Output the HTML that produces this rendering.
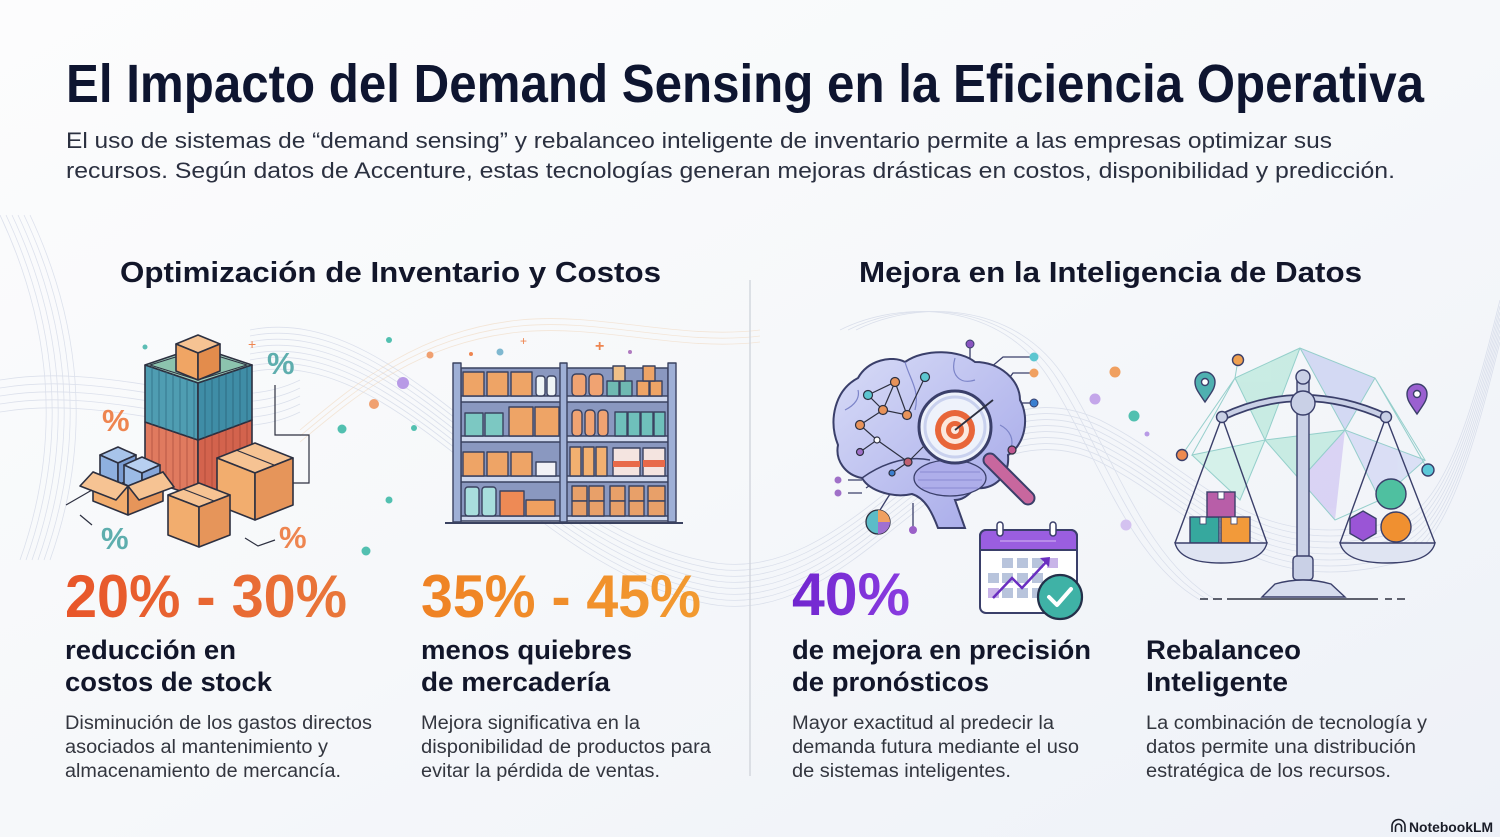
<!DOCTYPE html>
<html><head><meta charset="utf-8"><style>
html,body{margin:0;padding:0;background:#f6f8fb;}
svg{display:block;}
text{font-family:"Liberation Sans",Arial,sans-serif;}
</style></head><body>
<svg width="1500" height="837" viewBox="0 0 1500 837" xmlns="http://www.w3.org/2000/svg">
<defs>
<linearGradient id="bg" x1="0" y1="0" x2="1" y2="1">
<stop offset="0" stop-color="#fcfcfd"/><stop offset="0.5" stop-color="#f6f8fa"/><stop offset="1" stop-color="#eef1f8"/>
</linearGradient>
<linearGradient id="g1" x1="0" y1="0" x2="1" y2="0"><stop offset="0" stop-color="#e8562a"/><stop offset="1" stop-color="#e9773a"/></linearGradient>
<linearGradient id="g2" x1="0" y1="0" x2="1" y2="0"><stop offset="0" stop-color="#ef8224"/><stop offset="1" stop-color="#f29a30"/></linearGradient>
<linearGradient id="g3" x1="0" y1="0" x2="1" y2="0"><stop offset="0" stop-color="#7126cf"/><stop offset="1" stop-color="#8a3ce0"/></linearGradient>
<linearGradient id="brainG" x1="0" y1="0" x2="1" y2="1"><stop offset="0" stop-color="#d8dcf7"/><stop offset="1" stop-color="#a3a6e8"/></linearGradient>
<clipPath id="bl"><polygon points="145,365 198,383 198,440 145,422"/></clipPath>
<clipPath id="br"><polygon points="198,383 252,365 252,420 198,440"/></clipPath>
<clipPath id="rl"><polygon points="145,422 198,440 198,497 145,479"/></clipPath>
<clipPath id="rr"><polygon points="198,440 252,420 252,477 198,497"/></clipPath>
</defs>
<rect width="1500" height="837" fill="url(#bg)"/>

<!-- background waves -->
<g fill="none" stroke="#c9d0e2" stroke-width="0.8" opacity="0.6">
<path d="M250,330 C400,300 520,520 700,560 C860,600 950,350 1100,420 C1200,470 1250,560 1400,520 C1450,505 1480,380 1500,300"/>
<path d="M250,336 C400,306 520,526 700,566 C860,606 950,356 1100,426 C1200,476 1250,566 1400,526 C1450,511 1480,386 1500,306"/>
<path d="M250,342 C400,312 520,532 700,572 C860,612 950,362 1100,432 C1200,482 1250,572 1400,532 C1450,517 1480,392 1500,312"/>
<path d="M250,348 C400,318 520,538 700,578 C860,618 950,368 1100,438 C1200,488 1250,578 1400,538 C1450,523 1480,398 1500,318"/>
<path d="M250,354 C400,324 520,544 700,584 C860,624 950,374 1100,444 C1200,494 1250,584 1400,544 C1450,529 1480,404 1500,324"/>
<path d="M250,360 C400,330 520,550 700,590 C860,630 950,380 1100,450 C1200,500 1250,590 1400,550 C1450,535 1480,410 1500,330"/>
<path d="M250,366 C400,336 520,556 700,596 C860,636 950,386 1100,456 C1200,506 1250,596 1400,556 C1450,541 1480,416 1500,336"/>
<path d="M250,372 C400,342 520,562 700,602 C860,642 950,392 1100,462 C1200,512 1250,602 1400,562 C1450,547 1480,422 1500,342"/>
<path d="M0,215 C40,300 70,420 20,560"/><path d="M6,215 C46,300 76,420 26,560"/><path d="M12,215 C52,300 82,420 32,560"/>
<path d="M18,215 C58,300 88,420 38,560"/><path d="M24,215 C64,300 94,420 44,560"/><path d="M30,215 C70,300 100,420 50,560"/>
<path d="M0,380 C120,360 220,420 300,380"/><path d="M0,388 C120,368 220,428 300,388"/><path d="M0,396 C120,376 220,436 300,396"/>
<path d="M0,404 C120,384 220,444 300,404"/><path d="M0,412 C120,392 220,452 300,412"/>
<path d="M840,330 C900,300 1000,300 1050,380 C1100,460 1130,560 1200,600"/>
<path d="M848,330 C908,300 1008,300 1058,380 C1108,460 1138,560 1208,600"/>
<path d="M856,330 C916,300 1016,300 1066,380 C1116,460 1146,560 1216,600"/>
</g>
<g fill="none" stroke="#f0d2b4" stroke-width="0.8" opacity="0.5">
<path d="M300,430 C360,380 420,330 520,320 C600,312 680,340 760,330"/>
<path d="M300,436 C360,386 420,336 520,326 C600,318 680,346 760,336"/>
<path d="M300,442 C360,392 420,342 520,332 C600,324 680,352 760,342"/>
</g>

<!-- Title -->
<text x="66" y="102" font-size="54" font-weight="700" fill="#0e1530" textLength="1358" lengthAdjust="spacingAndGlyphs">El Impacto del Demand Sensing en la Eficiencia Operativa</text>
<text x="66" y="148" font-size="22" fill="#2b3040" textLength="1266" lengthAdjust="spacingAndGlyphs">El uso de sistemas de “demand sensing” y rebalanceo inteligente de inventario permite a las empresas optimizar sus</text>
<text x="66" y="178" font-size="22" fill="#2b3040" textLength="1329" lengthAdjust="spacingAndGlyphs">recursos. Según datos de Accenture, estas tecnologías generan mejoras drásticas en costos, disponibilidad y predicción.</text>

<!-- Section headings -->
<text x="120" y="282" font-size="29" font-weight="700" fill="#12162a" textLength="541" lengthAdjust="spacingAndGlyphs">Optimización de Inventario y Costos</text>
<text x="859" y="282" font-size="29" font-weight="700" fill="#12162a" textLength="503" lengthAdjust="spacingAndGlyphs">Mejora en la Inteligencia de Datos</text>

<!-- divider -->
<line x1="750" y1="280" x2="750" y2="776" stroke="#d3d7de" stroke-width="1.5"/>

<!-- ===== Illustration 1: containers & boxes ===== -->
<g stroke="#2d3040" stroke-width="1.6" stroke-linejoin="round">
<!-- red container -->
<polygon points="145,422 198,440 198,497 145,479" fill="#e07a5f"/>
<polygon points="198,440 252,420 252,477 198,497" fill="#d3634d"/>
<g clip-path="url(#rl)" stroke="#a84a3a" stroke-width="1" opacity="0.7"><path d="M152,400V520M159,400V520M166,400V520M173,400V520M180,400V520M187,400V520M194,400V520"/></g>
<g clip-path="url(#rr)" stroke="#a14434" stroke-width="1" opacity="0.7"><path d="M205,400V520M212,400V520M219,400V520M226,400V520M233,400V520M240,400V520M247,400V520"/></g>
<!-- blue container -->
<polygon points="145,365 198,347 252,365 198,383" fill="#9fd0bd"/>
<polygon points="150,365 198,350 247,365 198,380" fill="#8cc3ae" stroke-width="1"/>
<polygon points="145,365 198,383 198,440 145,422" fill="#4f9db2"/>
<polygon points="198,383 252,365 252,420 198,440" fill="#3f8da6"/>
<g clip-path="url(#bl)" stroke="#2f6f84" stroke-width="1" opacity="0.8"><path d="M152,350V450M159,350V450M166,350V450M173,350V450M180,350V450M187,350V450M194,350V450"/></g>
<g clip-path="url(#br)" stroke="#2a6479" stroke-width="1" opacity="0.8"><path d="M205,350V450M212,350V450M219,350V450M226,350V450M233,350V450M240,350V450M247,350V450"/></g>
<!-- top box -->
<polygon points="176,344 198,335 220,344 198,353" fill="#f6c393"/>
<polygon points="176,344 198,353 198,380 176,371" fill="#f0a564"/>
<polygon points="198,353 220,344 220,371 198,380" fill="#e38c4c"/>
<!-- right box -->
<polygon points="217,458 255,443 293,458 255,473" fill="#f6c393"/>
<polygon points="217,458 255,473 255,520 217,505" fill="#f2ad6e"/>
<polygon points="255,473 293,458 293,505 255,520" fill="#e6955a"/>
<line x1="236" y1="450" x2="274" y2="465" stroke-width="1.2"/>
<!-- middle box -->
<polygon points="168,495 199,483 230,495 199,507" fill="#f6c393"/>
<polygon points="168,495 199,507 199,547 168,535" fill="#f2ad6e"/>
<polygon points="199,507 230,495 230,535 199,547" fill="#e6955a"/>
<line x1="183" y1="489" x2="214" y2="501" stroke-width="1.2"/>
<!-- open box left -->
<polygon points="100,455 118,447 136,455 118,463" fill="#a8c4ea"/>
<polygon points="100,455 118,463 118,485 100,477" fill="#8eb0e0"/>
<polygon points="118,463 136,455 136,477 118,485" fill="#7a9cd2"/>
<polygon points="124,465 142,457 160,465 142,473" fill="#b7cff0"/>
<polygon points="124,465 142,473 142,492 124,484" fill="#9cbbe6"/>
<polygon points="142,473 160,465 160,484 142,492" fill="#86a6da"/>
<polygon points="93,472 128,486 128,515 93,501" fill="#f2ad6e"/>
<polygon points="128,486 163,472 163,501 128,515" fill="#e6955a"/>
<polygon points="93,472 128,486 116,500 80,486" fill="#f6c393"/>
<polygon points="128,486 163,472 174,487 139,500" fill="#f6c393"/>
</g>
<g stroke="#2d3040" stroke-width="1.2" fill="none">
<path d="M275,385 V435 H309 V483 H293"/>
<path d="M66,505 L92,490 M80,515 L92,525"/>
<path d="M245,538 L258,546 L275,540"/>
</g>
<g font-size="31" font-weight="700">
<text x="267" y="374" fill="#5eaeae">%</text>
<text x="102" y="431" fill="#ee8550">%</text>
<text x="101" y="549" fill="#5eaeae">%</text>
<text x="279" y="548" fill="#ee8550">%</text>
</g>
<text x="248" y="349" font-size="14" fill="#ee8550">+</text>
<circle cx="145" cy="347" r="2.5" fill="#5cbdb5"/>

<!-- floating dots between illustrations -->
<circle cx="403" cy="383" r="6" fill="#b89ae6"/>
<circle cx="374" cy="404" r="5" fill="#f0a070"/>
<circle cx="342" cy="429" r="4.5" fill="#52c0b0"/>
<circle cx="414" cy="428" r="3" fill="#52c0b0"/>
<circle cx="389" cy="500" r="3.5" fill="#52c0b0"/>
<circle cx="366" cy="551" r="4.5" fill="#52c0b0"/>
<circle cx="389" cy="340" r="3" fill="#52c0b0"/>
<circle cx="430" cy="355" r="3.5" fill="#f0a070"/>

<!-- ===== Illustration 2: shelves ===== -->
<g stroke="#3a4260" stroke-width="1.4" stroke-linejoin="round">
<rect x="461" y="368" width="207" height="150" fill="#8a98c0"/>
<rect x="461" y="396" width="207" height="6" fill="#cfd8ee"/>
<rect x="461" y="436" width="207" height="6" fill="#cfd8ee"/>
<rect x="461" y="476" width="207" height="6" fill="#cfd8ee"/>
<rect x="461" y="516" width="207" height="5" fill="#cfd8ee"/>
<rect x="463" y="372" width="21" height="24" fill="#eea466"/>
<rect x="487" y="372" width="21" height="24" fill="#eea466"/>
<rect x="511" y="372" width="21" height="24" fill="#eea466"/>
<rect x="536" y="376" width="9" height="20" rx="3" fill="#eef4f6"/>
<rect x="547" y="376" width="9" height="20" rx="3" fill="#eef4f6"/>
<rect x="572" y="374" width="14" height="22" rx="4" fill="#f0a372"/>
<rect x="589" y="374" width="14" height="22" rx="4" fill="#f0a372"/>
<rect x="607" y="381" width="12" height="15" fill="#6fb9b2"/>
<rect x="620" y="381" width="12" height="15" fill="#6fb9b2"/>
<rect x="613" y="366" width="12" height="15" fill="#f0c088"/>
<rect x="637" y="381" width="12" height="15" fill="#eea466"/>
<rect x="650" y="381" width="12" height="15" fill="#eea466"/>
<rect x="643" y="366" width="12" height="15" fill="#eea466"/>
<rect x="465" y="413" width="18" height="23" fill="#7cc8c2"/>
<rect x="485" y="413" width="18" height="23" fill="#7cc8c2"/>
<rect x="509" y="407" width="24" height="29" fill="#eea466"/>
<rect x="535" y="407" width="24" height="29" fill="#eea466"/>
<rect x="572" y="410" width="10" height="26" rx="4" fill="#f0a372"/>
<rect x="585" y="410" width="10" height="26" rx="4" fill="#f0a372"/>
<rect x="598" y="410" width="10" height="26" rx="4" fill="#f0a372"/>
<rect x="615" y="412" width="12" height="24" fill="#6fc0bb"/>
<rect x="628" y="412" width="12" height="24" fill="#6fc0bb"/>
<rect x="641" y="412" width="12" height="24" fill="#6fc0bb"/>
<rect x="654" y="412" width="11" height="24" fill="#6fc0bb"/>
<rect x="463" y="452" width="21" height="24" fill="#eea466"/>
<rect x="487" y="452" width="21" height="24" fill="#eea466"/>
<rect x="511" y="452" width="21" height="24" fill="#eea466"/>
<rect x="536" y="462" width="20" height="14" fill="#f1f1f6"/>
<rect x="570" y="447" width="11" height="29" fill="#f2b070"/>
<rect x="583" y="447" width="11" height="29" fill="#f2b070"/>
<rect x="596" y="447" width="11" height="29" fill="#f2b070"/>
<rect x="613" y="448" width="27" height="28" fill="#f4e4e0"/>
<rect x="643" y="448" width="22" height="28" fill="#f4e4e0"/>
<rect x="643" y="460" width="22" height="7" fill="#e86a4a" stroke="none"/>
<rect x="613" y="461" width="27" height="6" fill="#e86a4a" stroke="none"/>
<rect x="465" y="487" width="14" height="29" rx="3" fill="#a8dedd"/>
<rect x="482" y="487" width="14" height="29" rx="3" fill="#a8dedd"/>
<rect x="500" y="491" width="24" height="25" fill="#ee8a55"/>
<rect x="526" y="500" width="29" height="16" fill="#f0a060"/>
<rect x="572" y="486" width="15" height="15" fill="#e8a069"/>
<rect x="589" y="486" width="15" height="15" fill="#e8a069"/>
<rect x="610" y="486" width="15" height="15" fill="#e8a069"/>
<rect x="629" y="486" width="15" height="15" fill="#e8a069"/>
<rect x="648" y="486" width="17" height="15" fill="#e8a069"/>
<rect x="572" y="501" width="15" height="15" fill="#e8a069"/>
<rect x="589" y="501" width="15" height="15" fill="#e8a069"/>
<rect x="610" y="501" width="15" height="15" fill="#e8a069"/>
<rect x="629" y="501" width="15" height="15" fill="#e8a069"/>
<rect x="648" y="501" width="17" height="15" fill="#e8a069"/>
<rect x="453" y="363" width="8" height="159" fill="#9fb0d6"/>
<rect x="560" y="363" width="7" height="159" fill="#9fb0d6"/>
<rect x="668" y="363" width="8" height="159" fill="#9fb0d6"/>
<line x1="445" y1="523" x2="683" y2="523" stroke-width="2"/>
</g>
<text x="595" y="351" font-size="16" fill="#ee8550" font-weight="700">+</text>
<text x="520" y="345" font-size="12" fill="#ee8550">+</text>
<circle cx="500" cy="352" r="3.5" fill="#7fb8d0"/>
<circle cx="471" cy="354" r="2" fill="#ee8550"/>
<circle cx="630" cy="352" r="2" fill="#b07ac0"/>

<!-- ===== Illustration 3: brain ===== -->
<g stroke="#3a3f6a" stroke-width="1.3" fill="none">
<line x1="970" y1="346" x2="970" y2="362"/>
<path d="M990,368 L1003,357 H1030"/>
<path d="M993,400 L1013,373 H1030"/>
<path d="M1020,403 H1030"/>
<line x1="913" y1="503" x2="913" y2="527"/>
<path d="M848,480 H862 M848,493 H862 M866,488 L875,482"/>
<line x1="880" y1="510" x2="900" y2="478"/>
</g>
<circle cx="970" cy="344" r="4" fill="#8a55c0" stroke="#3a3f6a"/>
<circle cx="1034" cy="357" r="4.5" fill="#5cc6d0"/>
<circle cx="1034" cy="373" r="4.5" fill="#f0a060"/>
<circle cx="1034" cy="403" r="4" fill="#3a7fd0" stroke="#3a3f6a"/>
<circle cx="913" cy="530" r="4" fill="#9a60c8"/>
<circle cx="838" cy="480" r="3.5" fill="#a070c8"/>
<circle cx="838" cy="493" r="3.5" fill="#a070c8"/>
<path d="M838,445 C828,420 835,390 858,378 C868,360 892,355 905,362 C925,348 960,350 975,362 C1000,362 1020,380 1020,400 C1030,418 1025,445 1008,455 C1010,475 995,490 975,488 C968,496 962,500 955,500 L965,528 L938,528 C932,512 925,498 912,494 C895,498 870,492 862,478 C845,475 835,460 838,445 Z" fill="url(#brainG)" stroke="#3a3f6a" stroke-width="2"/>
<ellipse cx="950" cy="478" rx="36" ry="18" fill="#aeaeea" stroke="#3a3f6a" stroke-width="1.3"/>
<path d="M920,472 H980 M918,480 H982 M922,488 H978" stroke="#8a8ad2" stroke-width="1"/>
<path d="M862,478 C880,465 905,455 930,460" stroke="#3a3f6a" stroke-width="1.5" fill="none"/>
<path d="M905,362 C910,380 920,390 915,410 M955,358 C950,375 960,385 975,380 M845,410 C855,405 860,398 858,390 M1000,425 C1010,430 1015,440 1010,450" stroke="#7c84c8" stroke-width="1.2" fill="none"/>
<g stroke="#2d3040" stroke-width="1.2">
<path d="M895,382 L868,395 L883,410 L895,382 L907,415 L883,410 L860,425 L877,440 L860,452 M907,415 L925,377 M908,462 L892,473 M877,440 L908,462 L930,440" fill="none"/>
<circle cx="895" cy="382" r="4.5" fill="#e8935a"/>
<circle cx="868" cy="395" r="4.5" fill="#5cc6d0"/>
<circle cx="883" cy="410" r="4.5" fill="#e8935a"/>
<circle cx="907" cy="415" r="4.5" fill="#e8935a"/>
<circle cx="860" cy="425" r="4.5" fill="#e8935a"/>
<circle cx="925" cy="377" r="4.5" fill="#5cc6d0"/>
<circle cx="877" cy="440" r="3" fill="#ffffff"/>
<circle cx="860" cy="452" r="3.5" fill="#a070c8"/>
<circle cx="908" cy="462" r="4" fill="#c06070"/>
<circle cx="1012" cy="450" r="4" fill="#c05890"/>
<circle cx="892" cy="473" r="3" fill="#3a7fd0"/>
</g>
<line x1="990" y1="460" x2="1028" y2="498" stroke="#3a3f6a" stroke-width="15" stroke-linecap="round"/>
<line x1="990" y1="460" x2="1028" y2="498" stroke="#c8679e" stroke-width="11" stroke-linecap="round"/>
<circle cx="955" cy="427" r="36" fill="#eef2fb" stroke="#3a3f6a" stroke-width="3"/>
<circle cx="955" cy="427" r="30" fill="none" stroke="#c9d1ee" stroke-width="3"/>
<circle cx="955" cy="430" r="20" fill="#e8663a"/>
<circle cx="955" cy="430" r="14" fill="#fbe8de"/>
<circle cx="955" cy="430" r="9" fill="#e8663a"/>
<circle cx="955" cy="430" r="4" fill="#fbe8de"/>
<line x1="955" y1="430" x2="993" y2="400" stroke="#2d3040" stroke-width="1.8"/>
<circle cx="878" cy="522" r="12" fill="#5cbcc8" stroke="#2d3040" stroke-width="1.3"/>
<path d="M878,522 V510 A12,12 0 0 1 890,522 Z" fill="#f0a060"/>
<path d="M878,522 H890 A12,12 0 0 1 878,534 Z" fill="#a070d0"/>
<!-- calendar -->
<rect x="980" y="530" width="97" height="83" rx="6" fill="#ffffff" stroke="#3a3f6a" stroke-width="2"/>
<path d="M980,550 V536 a6,6 0 0 1 6,-6 H1071 a6,6 0 0 1 6,6 V550 Z" fill="#9a5ee0" stroke="#3a3f6a" stroke-width="2"/>
<line x1="1000" y1="541" x2="1056" y2="541" stroke="#c9a8f0" stroke-width="1.2"/>
<rect x="997" y="522" width="6" height="14" rx="3" fill="#fff" stroke="#3a3f6a" stroke-width="1.5"/>
<rect x="1050" y="522" width="6" height="14" rx="3" fill="#fff" stroke="#3a3f6a" stroke-width="1.5"/>
<g fill="#b8c4dc">
<rect x="1002" y="558" width="11" height="10"/><rect x="1017" y="558" width="11" height="10"/><rect x="1032" y="558" width="11" height="10"/><rect x="1047" y="558" width="11" height="10" fill="#c8b4e8"/>
<rect x="988" y="573" width="11" height="10"/><rect x="1002" y="573" width="11" height="10"/><rect x="1017" y="573" width="11" height="10"/><rect x="1032" y="573" width="11" height="10"/>
<rect x="988" y="588" width="11" height="10" fill="#c8b4e8"/><rect x="1002" y="588" width="11" height="10"/><rect x="1017" y="588" width="11" height="10"/><rect x="1032" y="588" width="11" height="10"/>
</g>
<path d="M993,598 L1012,578 L1022,588 L1048,560" fill="none" stroke="#6a2fc0" stroke-width="2.5"/>
<path d="M1040,558 L1050,557 L1049,567 Z" fill="#6a2fc0"/>
<circle cx="1060" cy="597" r="22" fill="#3fb2a6" stroke="#24304a" stroke-width="2.2"/>
<path d="M1049,597 L1057,605 L1071,589" fill="none" stroke="#ffffff" stroke-width="4" stroke-linecap="round" stroke-linejoin="round"/>

<circle cx="1115" cy="372" r="5.5" fill="#f0a060"/>
<circle cx="1095" cy="399" r="5.5" fill="#c4a6ea"/>
<circle cx="1134" cy="416" r="5.5" fill="#52c0b0"/>
<circle cx="1147" cy="434" r="2.5" fill="#b89ae6"/>
<circle cx="1126" cy="525" r="5.5" fill="#d4c2f0"/>

<!-- ===== Illustration 4: scale ===== -->
<g opacity="0.55">
<polygon points="1300,348 1375,378 1345,430" fill="#b9c3ef"/>
<polygon points="1235,378 1300,348 1265,440" fill="#a6e3d2"/>
<polygon points="1265,440 1345,430 1300,480" fill="#a6e3d2"/>
<polygon points="1192,455 1265,440 1240,500" fill="#bdeede"/>
<polygon points="1345,430 1425,460 1380,500" fill="#c7cdf2"/>
<polygon points="1300,480 1345,430 1335,520" fill="#c6b8f0"/>
</g>
<g stroke="#8ccbc6" stroke-width="1" fill="none" opacity="0.9">
<path d="M1300,348 L1235,378 L1192,455 L1265,440 L1300,348 L1375,378 L1425,460 L1345,430 L1300,348 M1235,378 L1265,440 L1345,430 L1375,378 M1265,440 L1300,480 L1345,430 M1192,455 L1240,500 L1265,440 M1345,430 L1380,500 L1425,460 M1300,480 L1335,520 L1380,500 M1182,455 L1235,378 M1375,378 L1428,470 M1238,360 L1235,378"/>
</g>
<g stroke="#3a3f6a" stroke-width="1.4">
<path d="M1222,417 L1175,543 M1222,417 L1267,543 M1386,417 L1340,543 M1386,417 L1435,543" fill="none"/>
<rect x="1190" y="517" width="29" height="26" fill="#36a89e"/>
<rect x="1221" y="517" width="29" height="26" fill="#f29a3a"/>
<rect x="1207" y="492" width="28" height="25" fill="#b85ea8"/>
<rect x="1200" y="517" width="6" height="7" fill="#fff" stroke-width="0.8"/>
<rect x="1231" y="517" width="6" height="7" fill="#fff" stroke-width="0.8"/>
<rect x="1218" y="492" width="6" height="7" fill="#fff" stroke-width="0.8"/>
<polygon points="1363,511 1376,518.5 1376,533.5 1363,541 1350,533.5 1350,518.5" fill="#9a55d6"/>
<circle cx="1396" cy="527" r="15" fill="#f09030"/>
<circle cx="1391" cy="494" r="15" fill="#4fc0a0"/>
<path d="M1175,543 L1267,543 Q1262,563 1221,563 Q1180,563 1175,543 Z" fill="#dfe4f2"/>
<path d="M1340,543 L1435,543 Q1430,563 1387,563 Q1345,563 1340,543 Z" fill="#dfe4f2"/>
<rect x="1297" y="380" width="12" height="180" fill="#c9d0e6"/>
<rect x="1293" y="556" width="20" height="24" rx="4" fill="#c9d0e6"/>
<path d="M1262,597 L1275,584 Q1303,576 1331,584 L1345,597 Z" fill="#d6dcee"/>
<path d="M1222,417 Q1262,398 1303,398 Q1344,398 1386,417" fill="none" stroke="#3a3f6a" stroke-width="8" stroke-linecap="round"/>
<path d="M1222,417 Q1262,398 1303,398 Q1344,398 1386,417" fill="none" stroke="#c9d0e6" stroke-width="4.5" stroke-linecap="round"/>
<circle cx="1303" cy="377" r="7" fill="#c9d0e6"/>
<circle cx="1303" cy="403" r="12" fill="#c9d0e6"/>
<circle cx="1222" cy="417" r="5.5" fill="#c9d0e6"/>
<circle cx="1386" cy="417" r="5.5" fill="#c9d0e6"/>
<circle cx="1238" cy="360" r="5.5" fill="#f0a050"/>
<circle cx="1182" cy="455" r="5.5" fill="#ee8a50"/>
<circle cx="1428" cy="470" r="6" fill="#5cc8d8"/>
<path d="M1205,402 C1198,392 1195,388 1195,382 A10,10 0 0 1 1215,382 C1215,388 1212,392 1205,402 Z" fill="#4fb0b0"/>
<circle cx="1205" cy="382" r="3.5" fill="#fff"/>
<path d="M1417,414 C1410,404 1407,400 1407,394 A10,10 0 0 1 1427,394 C1427,400 1424,404 1417,414 Z" fill="#9a60d0"/>
<circle cx="1417" cy="394" r="3.5" fill="#fff"/>
</g>
<path d="M1200,599 H1208 M1213,599 H1222 M1227,599 H1378 M1385,599 H1392 M1397,599 H1405" stroke="#2d3040" stroke-width="1.6"/>

<!-- ===== Stats ===== -->
<text x="65" y="617" font-size="60" font-weight="700" fill="url(#g1)" textLength="282" lengthAdjust="spacingAndGlyphs">20% - 30%</text>
<text x="421" y="617" font-size="60" font-weight="700" fill="url(#g2)" textLength="280" lengthAdjust="spacingAndGlyphs">35% - 45%</text>
<text x="792" y="615" font-size="60" font-weight="700" fill="url(#g3)" textLength="118" lengthAdjust="spacingAndGlyphs">40%</text>

<g font-size="27" font-weight="700" fill="#12162a">
<text x="65" y="659" textLength="171" lengthAdjust="spacingAndGlyphs">reducción en</text>
<text x="65" y="691" textLength="207" lengthAdjust="spacingAndGlyphs">costos de stock</text>
<text x="421" y="659" textLength="211" lengthAdjust="spacingAndGlyphs">menos quiebres</text>
<text x="421" y="691" textLength="189" lengthAdjust="spacingAndGlyphs">de mercadería</text>
<text x="792" y="659" textLength="299" lengthAdjust="spacingAndGlyphs">de mejora en precisión</text>
<text x="792" y="691" textLength="197" lengthAdjust="spacingAndGlyphs">de pronósticos</text>
<text x="1146" y="659" textLength="155" lengthAdjust="spacingAndGlyphs">Rebalanceo</text>
<text x="1146" y="691" textLength="142" lengthAdjust="spacingAndGlyphs">Inteligente</text>
</g>

<g font-size="19" fill="#33363f">
<text x="65" y="729" textLength="307" lengthAdjust="spacingAndGlyphs">Disminución de los gastos directos</text>
<text x="65" y="753" textLength="263" lengthAdjust="spacingAndGlyphs">asociados al mantenimiento y</text>
<text x="65" y="777" textLength="276" lengthAdjust="spacingAndGlyphs">almacenamiento de mercancía.</text>
<text x="421" y="729" textLength="219" lengthAdjust="spacingAndGlyphs">Mejora significativa en la</text>
<text x="421" y="753" textLength="290" lengthAdjust="spacingAndGlyphs">disponibilidad de productos para</text>
<text x="421" y="777" textLength="239" lengthAdjust="spacingAndGlyphs">evitar la pérdida de ventas.</text>
<text x="792" y="729" textLength="262" lengthAdjust="spacingAndGlyphs">Mayor exactitud al predecir la</text>
<text x="792" y="753" textLength="287" lengthAdjust="spacingAndGlyphs">demanda futura mediante el uso</text>
<text x="792" y="777" textLength="219" lengthAdjust="spacingAndGlyphs">de sistemas inteligentes.</text>
<text x="1146" y="729" textLength="281" lengthAdjust="spacingAndGlyphs">La combinación de tecnología y</text>
<text x="1146" y="753" textLength="270" lengthAdjust="spacingAndGlyphs">datos permite una distribución</text>
<text x="1146" y="777" textLength="245" lengthAdjust="spacingAndGlyphs">estratégica de los recursos.</text>
</g>

<!-- NotebookLM -->
<path d="M1392,832 V826 A6.5,6.5 0 0 1 1405,826 V832 M1395.5,832 V827 A3,3 0 0 1 1401.5,827 V832" fill="none" stroke="#1a1d28" stroke-width="1.6"/>
<text x="1409" y="832" font-size="14" font-weight="700" fill="#1a1d28" textLength="84" lengthAdjust="spacingAndGlyphs">NotebookLM</text>
</svg>
</body></html>
